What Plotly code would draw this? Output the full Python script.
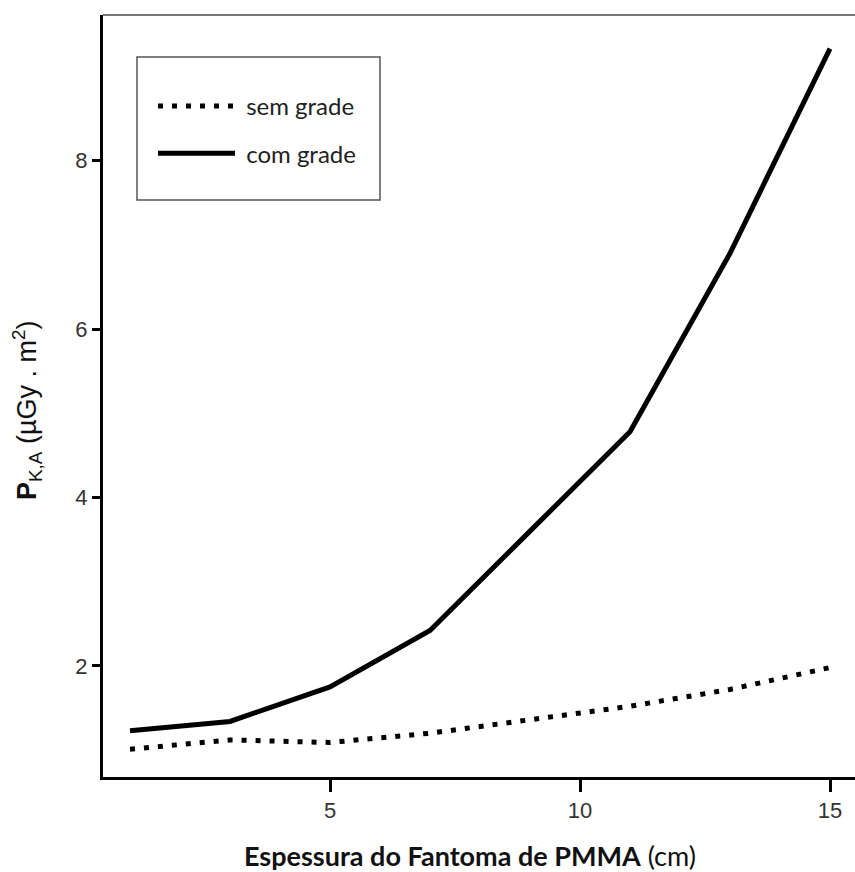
import plotly.graph_objects as go

espessura = [1, 3, 5, 7, 9, 11, 13, 15]
sem_grade = [1.01, 1.12, 1.09, 1.20, 1.36, 1.52, 1.72, 1.98]
com_grade = [1.23, 1.34, 1.75, 2.42, 3.60, 4.78, 6.90, 9.33]
x_ticks = [5, 10, 15]
y_ticks = [2, 4, 6, 8]

fig = go.Figure()
fig.add_trace(go.Scatter(
    x=espessura, y=sem_grade, mode="lines", name=" sem grade",
    line=dict(color="black", width=5, dash="5px,9px"),
    legendgroup="a"))
fig.add_trace(go.Scatter(
    x=espessura, y=com_grade, mode="lines", name=" com grade",
    line=dict(color="black", width=5),
    legendgroup="b"))

W, H = 855, 872
L, R, T, B = 103, 0, 15, 95
pw, ph = W - L - R, H - T - B

def px(x):
    return (x - L) / pw

def py(y):
    return (H - B - y) / ph

fig.update_layout(
    width=W, height=H,
    margin=dict(l=L, r=R, t=T, b=B),
    plot_bgcolor="white", paper_bgcolor="white",
    font=dict(family="Arial", size=22, color="#333"),
    showlegend=True,
    legend=dict(
        x=px(153), y=py(84), xanchor="left", yanchor="top",
        bgcolor="rgba(0,0,0,0)", borderwidth=0,
        font=dict(family="Lato", size=24, color="#222"),
        itemwidth=77, tracegroupgap=13, traceorder="grouped"),
    annotations=[
        dict(text="<b>Espessura do Fantoma de PMMA</b> (cm)",
             xref="paper", yref="paper", x=px(470), y=py(855),
             xanchor="center", yanchor="middle", showarrow=False,
             font=dict(family="Lato", size=27, color="#111")),
        dict(text="<b>P</b><sub>K,A</sub> (µGy . m<sup>2</sup>)",
             xref="paper", yref="paper", x=px(27), y=py(410),
             xanchor="center", yanchor="middle", showarrow=False, textangle=-90,
             font=dict(family="Arial", size=27, color="#111")),
    ],
    shapes=[
        dict(type="line", xref="paper", yref="paper", x0=0, x1=1, y0=1, y1=1,
             line=dict(color="#777", width=2)),
        dict(type="rect", xref="paper", yref="paper",
             x0=px(137), x1=px(380), y0=py(200), y1=py(57),
             line=dict(color="#555", width=1.5)),
    ],
)
fig.update_xaxes(
    range=[0.46, 15.5], tickmode="array", tickvals=x_ticks,
    showline=True, linecolor="black", linewidth=3,
    ticks="outside", ticklen=12, tickwidth=2.5, tickcolor="black",
    showgrid=False, zeroline=False,
    tickfont_family="Arial", tickfont_size=22, tickfont_color="#333")
fig.update_yaxes(
    range=[0.68, 9.73], tickmode="array", tickvals=y_ticks,
    showline=True, linecolor="black", linewidth=3,
    ticks="outside", ticklen=8, tickwidth=2.5, tickcolor="black",
    showgrid=False, zeroline=False,
    tickfont_family="Arial", tickfont_size=22, tickfont_color="#333")

fig.write_html("out.html")
